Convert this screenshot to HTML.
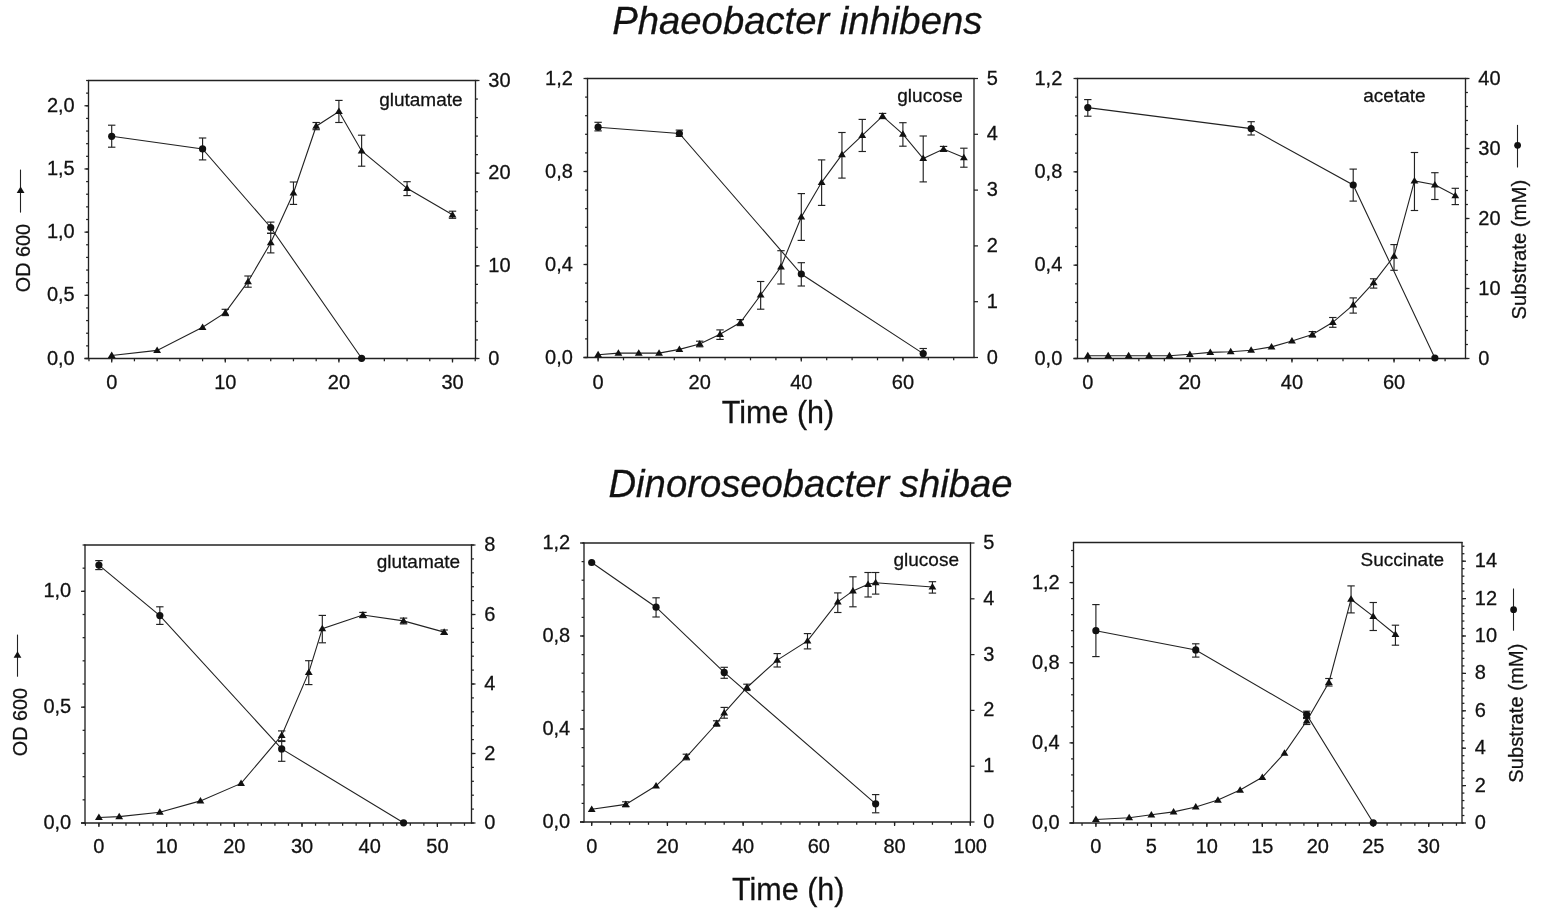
<!DOCTYPE html>
<html><head><meta charset="utf-8"><title>Growth curves</title>
<style>html,body{margin:0;padding:0;background:#fff;}svg{display:block;}</style>
</head><body>
<svg width="1547" height="919" viewBox="0 0 1547 919" font-family="'Liberation Sans', Arial, sans-serif">
<style>text{stroke:#111;stroke-width:0.28px;paint-order:stroke;}</style>
<rect width="1547" height="919" fill="#fff"/>
<text x="797.3" y="33.8" font-size="38.25" font-style="italic" text-anchor="middle" fill="#111">Phaeobacter inhibens</text>
<text x="810.5" y="497.4" font-size="38.25" font-style="italic" text-anchor="middle" fill="#111">Dinoroseobacter shibae</text>
<text x="778" y="422.6" font-size="30.5" text-anchor="middle" fill="#111">Time (h)</text>
<text x="788.3" y="900" font-size="30.5" text-anchor="middle" fill="#111">Time (h)</text>
<g stroke="#222" fill="none" stroke-linecap="butt">
<line x1="87.9" y1="80.5" x2="476.1" y2="80.5" stroke-width="1.35"/>
<line x1="88.5" y1="79.9" x2="88.5" y2="359.1" stroke-width="1.35"/>
<line x1="475.5" y1="79.9" x2="475.5" y2="359.1" stroke-width="1.35"/>
<line x1="84.5" y1="358.5" x2="476.1" y2="358.5" stroke-width="1.35"/>
<line x1="86.1" y1="358.5" x2="88.5" y2="358.5" stroke-width="1.25"/>
<line x1="86.1" y1="345.86" x2="88.5" y2="345.86" stroke-width="1.25"/>
<line x1="86.1" y1="333.23" x2="88.5" y2="333.23" stroke-width="1.25"/>
<line x1="86.1" y1="320.59" x2="88.5" y2="320.59" stroke-width="1.25"/>
<line x1="86.1" y1="307.95" x2="88.5" y2="307.95" stroke-width="1.25"/>
<line x1="86.1" y1="295.32" x2="88.5" y2="295.32" stroke-width="1.25"/>
<line x1="86.1" y1="282.68" x2="88.5" y2="282.68" stroke-width="1.25"/>
<line x1="86.1" y1="270.05" x2="88.5" y2="270.05" stroke-width="1.25"/>
<line x1="86.1" y1="257.41" x2="88.5" y2="257.41" stroke-width="1.25"/>
<line x1="86.1" y1="244.77" x2="88.5" y2="244.77" stroke-width="1.25"/>
<line x1="86.1" y1="232.14" x2="88.5" y2="232.14" stroke-width="1.25"/>
<line x1="86.1" y1="219.5" x2="88.5" y2="219.5" stroke-width="1.25"/>
<line x1="86.1" y1="206.86" x2="88.5" y2="206.86" stroke-width="1.25"/>
<line x1="86.1" y1="194.23" x2="88.5" y2="194.23" stroke-width="1.25"/>
<line x1="86.1" y1="181.59" x2="88.5" y2="181.59" stroke-width="1.25"/>
<line x1="86.1" y1="168.95" x2="88.5" y2="168.95" stroke-width="1.25"/>
<line x1="86.1" y1="156.32" x2="88.5" y2="156.32" stroke-width="1.25"/>
<line x1="86.1" y1="143.68" x2="88.5" y2="143.68" stroke-width="1.25"/>
<line x1="86.1" y1="131.05" x2="88.5" y2="131.05" stroke-width="1.25"/>
<line x1="86.1" y1="118.41" x2="88.5" y2="118.41" stroke-width="1.25"/>
<line x1="86.1" y1="105.77" x2="88.5" y2="105.77" stroke-width="1.25"/>
<line x1="86.1" y1="93.14" x2="88.5" y2="93.14" stroke-width="1.25"/>
<line x1="86.1" y1="80.5" x2="88.5" y2="80.5" stroke-width="1.25"/>
<line x1="84.5" y1="358.5" x2="88.5" y2="358.5" stroke-width="1.25"/>
<line x1="84.5" y1="295.32" x2="88.5" y2="295.32" stroke-width="1.25"/>
<line x1="84.5" y1="232.14" x2="88.5" y2="232.14" stroke-width="1.25"/>
<line x1="84.5" y1="168.95" x2="88.5" y2="168.95" stroke-width="1.25"/>
<line x1="84.5" y1="105.77" x2="88.5" y2="105.77" stroke-width="1.25"/>
<line x1="475.5" y1="358.5" x2="477.9" y2="358.5" stroke-width="1.25"/>
<line x1="475.5" y1="339.97" x2="477.9" y2="339.97" stroke-width="1.25"/>
<line x1="475.5" y1="321.43" x2="477.9" y2="321.43" stroke-width="1.25"/>
<line x1="475.5" y1="302.9" x2="477.9" y2="302.9" stroke-width="1.25"/>
<line x1="475.5" y1="284.37" x2="477.9" y2="284.37" stroke-width="1.25"/>
<line x1="475.5" y1="265.83" x2="477.9" y2="265.83" stroke-width="1.25"/>
<line x1="475.5" y1="247.3" x2="477.9" y2="247.3" stroke-width="1.25"/>
<line x1="475.5" y1="228.77" x2="477.9" y2="228.77" stroke-width="1.25"/>
<line x1="475.5" y1="210.23" x2="477.9" y2="210.23" stroke-width="1.25"/>
<line x1="475.5" y1="191.7" x2="477.9" y2="191.7" stroke-width="1.25"/>
<line x1="475.5" y1="173.17" x2="477.9" y2="173.17" stroke-width="1.25"/>
<line x1="475.5" y1="154.63" x2="477.9" y2="154.63" stroke-width="1.25"/>
<line x1="475.5" y1="136.1" x2="477.9" y2="136.1" stroke-width="1.25"/>
<line x1="475.5" y1="117.57" x2="477.9" y2="117.57" stroke-width="1.25"/>
<line x1="475.5" y1="99.03" x2="477.9" y2="99.03" stroke-width="1.25"/>
<line x1="475.5" y1="80.5" x2="477.9" y2="80.5" stroke-width="1.25"/>
<line x1="475.5" y1="358.5" x2="479.5" y2="358.5" stroke-width="1.25"/>
<line x1="475.5" y1="265.83" x2="479.5" y2="265.83" stroke-width="1.25"/>
<line x1="475.5" y1="173.17" x2="479.5" y2="173.17" stroke-width="1.25"/>
<line x1="475.5" y1="80.5" x2="479.5" y2="80.5" stroke-width="1.25"/>
<line x1="88.98" y1="358.5" x2="88.98" y2="361.3" stroke-width="1.25"/>
<line x1="111.7" y1="358.5" x2="111.7" y2="361.3" stroke-width="1.25"/>
<line x1="134.42" y1="358.5" x2="134.42" y2="361.3" stroke-width="1.25"/>
<line x1="157.14" y1="358.5" x2="157.14" y2="361.3" stroke-width="1.25"/>
<line x1="179.86" y1="358.5" x2="179.86" y2="361.3" stroke-width="1.25"/>
<line x1="202.58" y1="358.5" x2="202.58" y2="361.3" stroke-width="1.25"/>
<line x1="225.3" y1="358.5" x2="225.3" y2="361.3" stroke-width="1.25"/>
<line x1="248.02" y1="358.5" x2="248.02" y2="361.3" stroke-width="1.25"/>
<line x1="270.74" y1="358.5" x2="270.74" y2="361.3" stroke-width="1.25"/>
<line x1="293.46" y1="358.5" x2="293.46" y2="361.3" stroke-width="1.25"/>
<line x1="316.18" y1="358.5" x2="316.18" y2="361.3" stroke-width="1.25"/>
<line x1="338.9" y1="358.5" x2="338.9" y2="361.3" stroke-width="1.25"/>
<line x1="361.62" y1="358.5" x2="361.62" y2="361.3" stroke-width="1.25"/>
<line x1="384.34" y1="358.5" x2="384.34" y2="361.3" stroke-width="1.25"/>
<line x1="407.06" y1="358.5" x2="407.06" y2="361.3" stroke-width="1.25"/>
<line x1="429.78" y1="358.5" x2="429.78" y2="361.3" stroke-width="1.25"/>
<line x1="452.5" y1="358.5" x2="452.5" y2="361.3" stroke-width="1.25"/>
<line x1="475.22" y1="358.5" x2="475.22" y2="361.3" stroke-width="1.25"/>
<line x1="111.7" y1="358.5" x2="111.7" y2="362.5" stroke-width="1.25"/>
<line x1="225.3" y1="358.5" x2="225.3" y2="362.5" stroke-width="1.25"/>
<line x1="338.9" y1="358.5" x2="338.9" y2="362.5" stroke-width="1.25"/>
<line x1="452.5" y1="358.5" x2="452.5" y2="362.5" stroke-width="1.25"/>
</g>
<g fill="#111">
<text x="74.7" y="364.5" font-size="20" text-anchor="end" >0,0</text>
<text x="74.7" y="301.32" font-size="20" text-anchor="end" >0,5</text>
<text x="74.7" y="238.14" font-size="20" text-anchor="end" >1,0</text>
<text x="74.7" y="174.95" font-size="20" text-anchor="end" >1,5</text>
<text x="74.7" y="111.77" font-size="20" text-anchor="end" >2,0</text>
<text x="488.3" y="364.5" font-size="20" text-anchor="start" >0</text>
<text x="488.3" y="271.83" font-size="20" text-anchor="start" >10</text>
<text x="488.3" y="179.17" font-size="20" text-anchor="start" >20</text>
<text x="488.3" y="86.5" font-size="20" text-anchor="start" >30</text>
<text x="111.7" y="389.2" font-size="20" text-anchor="middle" >0</text>
<text x="225.3" y="389.2" font-size="20" text-anchor="middle" >10</text>
<text x="338.9" y="389.2" font-size="20" text-anchor="middle" >20</text>
<text x="452.5" y="389.2" font-size="20" text-anchor="middle" >30</text>
<text x="462.6" y="105.7" font-size="19" text-anchor="end" >glutamate</text>
</g>
<g stroke="#222" fill="none">
<polyline points="111.7,136.3 202.58,148.9 270.74,227.5 361.62,358.3" stroke-width="1.1"/>
<polyline points="111.7,355.5 157.14,350.4 202.58,327.3 225.3,312.6 248.02,281.7 270.74,242.7 293.46,193 316.18,126.2 338.9,111.5 361.62,150.9 407.06,188.3 452.5,214.8" stroke-width="1.1"/>
<line x1="111.7" y1="125.2" x2="111.7" y2="147.2" stroke-width="1.15"/>
<line x1="108" y1="125.2" x2="115.4" y2="125.2" stroke-width="1.15"/>
<line x1="108" y1="147.2" x2="115.4" y2="147.2" stroke-width="1.15"/>
<line x1="202.58" y1="138" x2="202.58" y2="159.9" stroke-width="1.15"/>
<line x1="198.88" y1="138" x2="206.28" y2="138" stroke-width="1.15"/>
<line x1="198.88" y1="159.9" x2="206.28" y2="159.9" stroke-width="1.15"/>
<line x1="270.74" y1="222.1" x2="270.74" y2="233.3" stroke-width="1.15"/>
<line x1="267.04" y1="222.1" x2="274.44" y2="222.1" stroke-width="1.15"/>
<line x1="267.04" y1="233.3" x2="274.44" y2="233.3" stroke-width="1.15"/>
<line x1="225.3" y1="309.3" x2="225.3" y2="315.6" stroke-width="1.15"/>
<line x1="221.6" y1="309.3" x2="229" y2="309.3" stroke-width="1.15"/>
<line x1="221.6" y1="315.6" x2="229" y2="315.6" stroke-width="1.15"/>
<line x1="248.02" y1="276" x2="248.02" y2="287.2" stroke-width="1.15"/>
<line x1="244.32" y1="276" x2="251.72" y2="276" stroke-width="1.15"/>
<line x1="244.32" y1="287.2" x2="251.72" y2="287.2" stroke-width="1.15"/>
<line x1="270.74" y1="233.3" x2="270.74" y2="252.9" stroke-width="1.15"/>
<line x1="267.04" y1="233.3" x2="274.44" y2="233.3" stroke-width="1.15"/>
<line x1="267.04" y1="252.9" x2="274.44" y2="252.9" stroke-width="1.15"/>
<line x1="293.46" y1="182" x2="293.46" y2="204.4" stroke-width="1.15"/>
<line x1="289.76" y1="182" x2="297.16" y2="182" stroke-width="1.15"/>
<line x1="289.76" y1="204.4" x2="297.16" y2="204.4" stroke-width="1.15"/>
<line x1="316.18" y1="122.5" x2="316.18" y2="129.7" stroke-width="1.15"/>
<line x1="312.48" y1="122.5" x2="319.88" y2="122.5" stroke-width="1.15"/>
<line x1="312.48" y1="129.7" x2="319.88" y2="129.7" stroke-width="1.15"/>
<line x1="338.9" y1="100.4" x2="338.9" y2="122.5" stroke-width="1.15"/>
<line x1="335.2" y1="100.4" x2="342.6" y2="100.4" stroke-width="1.15"/>
<line x1="335.2" y1="122.5" x2="342.6" y2="122.5" stroke-width="1.15"/>
<line x1="361.62" y1="135.2" x2="361.62" y2="166.2" stroke-width="1.15"/>
<line x1="357.92" y1="135.2" x2="365.32" y2="135.2" stroke-width="1.15"/>
<line x1="357.92" y1="166.2" x2="365.32" y2="166.2" stroke-width="1.15"/>
<line x1="407.06" y1="181.7" x2="407.06" y2="195.6" stroke-width="1.15"/>
<line x1="403.36" y1="181.7" x2="410.76" y2="181.7" stroke-width="1.15"/>
<line x1="403.36" y1="195.6" x2="410.76" y2="195.6" stroke-width="1.15"/>
<line x1="452.5" y1="211.2" x2="452.5" y2="218.3" stroke-width="1.15"/>
<line x1="448.8" y1="211.2" x2="456.2" y2="211.2" stroke-width="1.15"/>
<line x1="448.8" y1="218.3" x2="456.2" y2="218.3" stroke-width="1.15"/>
</g>
<g fill="#111" stroke="none">
<circle cx="111.7" cy="136.3" r="3.6"/>
<circle cx="202.58" cy="148.9" r="3.6"/>
<circle cx="270.74" cy="227.5" r="3.6"/>
<circle cx="361.62" cy="358.3" r="3.6"/>
<path d="M111.7,351.6L115.6,358.1L107.8,358.1Z"/>
<path d="M157.14,346.5L161.04,353L153.24,353Z"/>
<path d="M202.58,323.4L206.48,329.9L198.68,329.9Z"/>
<path d="M225.3,308.7L229.2,315.2L221.4,315.2Z"/>
<path d="M248.02,277.8L251.92,284.3L244.12,284.3Z"/>
<path d="M270.74,238.8L274.64,245.3L266.84,245.3Z"/>
<path d="M293.46,189.1L297.36,195.6L289.56,195.6Z"/>
<path d="M316.18,122.3L320.08,128.8L312.28,128.8Z"/>
<path d="M338.9,107.6L342.8,114.1L335,114.1Z"/>
<path d="M361.62,147L365.52,153.5L357.72,153.5Z"/>
<path d="M407.06,184.4L410.96,190.9L403.16,190.9Z"/>
<path d="M452.5,210.9L456.4,217.4L448.6,217.4Z"/>
</g>
<g stroke="#222" fill="none" stroke-linecap="butt">
<line x1="586.9" y1="78.5" x2="974.6" y2="78.5" stroke-width="1.35"/>
<line x1="587.5" y1="77.9" x2="587.5" y2="358.1" stroke-width="1.35"/>
<line x1="974" y1="77.9" x2="974" y2="358.1" stroke-width="1.35"/>
<line x1="583.5" y1="357.5" x2="974.6" y2="357.5" stroke-width="1.35"/>
<line x1="585.1" y1="357.5" x2="587.5" y2="357.5" stroke-width="1.25"/>
<line x1="585.1" y1="338.9" x2="587.5" y2="338.9" stroke-width="1.25"/>
<line x1="585.1" y1="320.3" x2="587.5" y2="320.3" stroke-width="1.25"/>
<line x1="585.1" y1="301.7" x2="587.5" y2="301.7" stroke-width="1.25"/>
<line x1="585.1" y1="283.1" x2="587.5" y2="283.1" stroke-width="1.25"/>
<line x1="585.1" y1="264.5" x2="587.5" y2="264.5" stroke-width="1.25"/>
<line x1="585.1" y1="245.9" x2="587.5" y2="245.9" stroke-width="1.25"/>
<line x1="585.1" y1="227.3" x2="587.5" y2="227.3" stroke-width="1.25"/>
<line x1="585.1" y1="208.7" x2="587.5" y2="208.7" stroke-width="1.25"/>
<line x1="585.1" y1="190.1" x2="587.5" y2="190.1" stroke-width="1.25"/>
<line x1="585.1" y1="171.5" x2="587.5" y2="171.5" stroke-width="1.25"/>
<line x1="585.1" y1="152.9" x2="587.5" y2="152.9" stroke-width="1.25"/>
<line x1="585.1" y1="134.3" x2="587.5" y2="134.3" stroke-width="1.25"/>
<line x1="585.1" y1="115.7" x2="587.5" y2="115.7" stroke-width="1.25"/>
<line x1="585.1" y1="97.1" x2="587.5" y2="97.1" stroke-width="1.25"/>
<line x1="585.1" y1="78.5" x2="587.5" y2="78.5" stroke-width="1.25"/>
<line x1="583.5" y1="357.5" x2="587.5" y2="357.5" stroke-width="1.25"/>
<line x1="583.5" y1="264.5" x2="587.5" y2="264.5" stroke-width="1.25"/>
<line x1="583.5" y1="171.5" x2="587.5" y2="171.5" stroke-width="1.25"/>
<line x1="583.5" y1="78.5" x2="587.5" y2="78.5" stroke-width="1.25"/>
<line x1="974" y1="357.5" x2="978" y2="357.5" stroke-width="1.25"/>
<line x1="974" y1="301.7" x2="978" y2="301.7" stroke-width="1.25"/>
<line x1="974" y1="245.9" x2="978" y2="245.9" stroke-width="1.25"/>
<line x1="974" y1="190.1" x2="978" y2="190.1" stroke-width="1.25"/>
<line x1="974" y1="134.3" x2="978" y2="134.3" stroke-width="1.25"/>
<line x1="974" y1="78.5" x2="978" y2="78.5" stroke-width="1.25"/>
<line x1="598.1" y1="357.5" x2="598.1" y2="360.3" stroke-width="1.25"/>
<line x1="623.5" y1="357.5" x2="623.5" y2="360.3" stroke-width="1.25"/>
<line x1="648.9" y1="357.5" x2="648.9" y2="360.3" stroke-width="1.25"/>
<line x1="674.3" y1="357.5" x2="674.3" y2="360.3" stroke-width="1.25"/>
<line x1="699.7" y1="357.5" x2="699.7" y2="360.3" stroke-width="1.25"/>
<line x1="725.1" y1="357.5" x2="725.1" y2="360.3" stroke-width="1.25"/>
<line x1="750.5" y1="357.5" x2="750.5" y2="360.3" stroke-width="1.25"/>
<line x1="775.9" y1="357.5" x2="775.9" y2="360.3" stroke-width="1.25"/>
<line x1="801.3" y1="357.5" x2="801.3" y2="360.3" stroke-width="1.25"/>
<line x1="826.7" y1="357.5" x2="826.7" y2="360.3" stroke-width="1.25"/>
<line x1="852.1" y1="357.5" x2="852.1" y2="360.3" stroke-width="1.25"/>
<line x1="877.5" y1="357.5" x2="877.5" y2="360.3" stroke-width="1.25"/>
<line x1="902.9" y1="357.5" x2="902.9" y2="360.3" stroke-width="1.25"/>
<line x1="928.3" y1="357.5" x2="928.3" y2="360.3" stroke-width="1.25"/>
<line x1="953.7" y1="357.5" x2="953.7" y2="360.3" stroke-width="1.25"/>
<line x1="598.1" y1="357.5" x2="598.1" y2="361.5" stroke-width="1.25"/>
<line x1="699.7" y1="357.5" x2="699.7" y2="361.5" stroke-width="1.25"/>
<line x1="801.3" y1="357.5" x2="801.3" y2="361.5" stroke-width="1.25"/>
<line x1="902.9" y1="357.5" x2="902.9" y2="361.5" stroke-width="1.25"/>
</g>
<g fill="#111">
<text x="572.9" y="363.5" font-size="20" text-anchor="end" >0,0</text>
<text x="572.9" y="270.5" font-size="20" text-anchor="end" >0,4</text>
<text x="572.9" y="177.5" font-size="20" text-anchor="end" >0,8</text>
<text x="572.9" y="84.5" font-size="20" text-anchor="end" >1,2</text>
<text x="986.8" y="363.5" font-size="20" text-anchor="start" >0</text>
<text x="986.8" y="307.7" font-size="20" text-anchor="start" >1</text>
<text x="986.8" y="251.9" font-size="20" text-anchor="start" >2</text>
<text x="986.8" y="196.1" font-size="20" text-anchor="start" >3</text>
<text x="986.8" y="140.3" font-size="20" text-anchor="start" >4</text>
<text x="986.8" y="84.5" font-size="20" text-anchor="start" >5</text>
<text x="598.1" y="389.2" font-size="20" text-anchor="middle" >0</text>
<text x="699.7" y="389.2" font-size="20" text-anchor="middle" >20</text>
<text x="801.3" y="389.2" font-size="20" text-anchor="middle" >40</text>
<text x="902.9" y="389.2" font-size="20" text-anchor="middle" >60</text>
<text x="962.8" y="101.7" font-size="19" text-anchor="end" >glucose</text>
</g>
<g stroke="#222" fill="none">
<polyline points="598.1,127.2 679.38,133.5 801.3,274 923.22,353.6" stroke-width="1.1"/>
<polyline points="598.1,354.7 618.42,353.1 638.74,353.1 659.06,353.1 679.38,349.4 699.7,344 720.02,334.3 740.34,322.6 760.66,295 780.98,266.8 801.3,217 821.62,182.3 841.94,154.6 862.26,135.4 882.58,116.2 902.9,134.1 923.22,158.5 943.54,149.1 963.86,157.6" stroke-width="1.1"/>
<line x1="598.1" y1="122.3" x2="598.1" y2="130.9" stroke-width="1.15"/>
<line x1="594.4" y1="122.3" x2="601.8" y2="122.3" stroke-width="1.15"/>
<line x1="594.4" y1="130.9" x2="601.8" y2="130.9" stroke-width="1.15"/>
<line x1="679.38" y1="130.1" x2="679.38" y2="136.4" stroke-width="1.15"/>
<line x1="675.68" y1="130.1" x2="683.08" y2="130.1" stroke-width="1.15"/>
<line x1="675.68" y1="136.4" x2="683.08" y2="136.4" stroke-width="1.15"/>
<line x1="801.3" y1="262.7" x2="801.3" y2="286" stroke-width="1.15"/>
<line x1="797.6" y1="262.7" x2="805" y2="262.7" stroke-width="1.15"/>
<line x1="797.6" y1="286" x2="805" y2="286" stroke-width="1.15"/>
<line x1="923.22" y1="348.5" x2="923.22" y2="357.6" stroke-width="1.15"/>
<line x1="919.52" y1="348.5" x2="926.92" y2="348.5" stroke-width="1.15"/>
<line x1="919.52" y1="357.6" x2="926.92" y2="357.6" stroke-width="1.15"/>
<line x1="699.7" y1="341.2" x2="699.7" y2="346.8" stroke-width="1.15"/>
<line x1="696" y1="341.2" x2="703.4" y2="341.2" stroke-width="1.15"/>
<line x1="696" y1="346.8" x2="703.4" y2="346.8" stroke-width="1.15"/>
<line x1="720.02" y1="329.9" x2="720.02" y2="339.4" stroke-width="1.15"/>
<line x1="716.32" y1="329.9" x2="723.72" y2="329.9" stroke-width="1.15"/>
<line x1="716.32" y1="339.4" x2="723.72" y2="339.4" stroke-width="1.15"/>
<line x1="740.34" y1="319.6" x2="740.34" y2="325.6" stroke-width="1.15"/>
<line x1="736.64" y1="319.6" x2="744.04" y2="319.6" stroke-width="1.15"/>
<line x1="736.64" y1="325.6" x2="744.04" y2="325.6" stroke-width="1.15"/>
<line x1="760.66" y1="281.5" x2="760.66" y2="309.2" stroke-width="1.15"/>
<line x1="756.96" y1="281.5" x2="764.36" y2="281.5" stroke-width="1.15"/>
<line x1="756.96" y1="309.2" x2="764.36" y2="309.2" stroke-width="1.15"/>
<line x1="780.98" y1="250.7" x2="780.98" y2="284" stroke-width="1.15"/>
<line x1="777.28" y1="250.7" x2="784.68" y2="250.7" stroke-width="1.15"/>
<line x1="777.28" y1="284" x2="784.68" y2="284" stroke-width="1.15"/>
<line x1="801.3" y1="193.6" x2="801.3" y2="240.4" stroke-width="1.15"/>
<line x1="797.6" y1="193.6" x2="805" y2="193.6" stroke-width="1.15"/>
<line x1="797.6" y1="240.4" x2="805" y2="240.4" stroke-width="1.15"/>
<line x1="821.62" y1="159.9" x2="821.62" y2="205.4" stroke-width="1.15"/>
<line x1="817.92" y1="159.9" x2="825.32" y2="159.9" stroke-width="1.15"/>
<line x1="817.92" y1="205.4" x2="825.32" y2="205.4" stroke-width="1.15"/>
<line x1="841.94" y1="132.5" x2="841.94" y2="178.1" stroke-width="1.15"/>
<line x1="838.24" y1="132.5" x2="845.64" y2="132.5" stroke-width="1.15"/>
<line x1="838.24" y1="178.1" x2="845.64" y2="178.1" stroke-width="1.15"/>
<line x1="862.26" y1="119.4" x2="862.26" y2="151.5" stroke-width="1.15"/>
<line x1="858.56" y1="119.4" x2="865.96" y2="119.4" stroke-width="1.15"/>
<line x1="858.56" y1="151.5" x2="865.96" y2="151.5" stroke-width="1.15"/>
<line x1="882.58" y1="113.4" x2="882.58" y2="118.6" stroke-width="1.15"/>
<line x1="878.88" y1="113.4" x2="886.28" y2="113.4" stroke-width="1.15"/>
<line x1="878.88" y1="118.6" x2="886.28" y2="118.6" stroke-width="1.15"/>
<line x1="902.9" y1="122.7" x2="902.9" y2="146.2" stroke-width="1.15"/>
<line x1="899.2" y1="122.7" x2="906.6" y2="122.7" stroke-width="1.15"/>
<line x1="899.2" y1="146.2" x2="906.6" y2="146.2" stroke-width="1.15"/>
<line x1="923.22" y1="136" x2="923.22" y2="181.9" stroke-width="1.15"/>
<line x1="919.52" y1="136" x2="926.92" y2="136" stroke-width="1.15"/>
<line x1="919.52" y1="181.9" x2="926.92" y2="181.9" stroke-width="1.15"/>
<line x1="943.54" y1="146.4" x2="943.54" y2="151.4" stroke-width="1.15"/>
<line x1="939.84" y1="146.4" x2="947.24" y2="146.4" stroke-width="1.15"/>
<line x1="939.84" y1="151.4" x2="947.24" y2="151.4" stroke-width="1.15"/>
<line x1="963.86" y1="148.2" x2="963.86" y2="167.2" stroke-width="1.15"/>
<line x1="960.16" y1="148.2" x2="967.56" y2="148.2" stroke-width="1.15"/>
<line x1="960.16" y1="167.2" x2="967.56" y2="167.2" stroke-width="1.15"/>
</g>
<g fill="#111" stroke="none">
<circle cx="598.1" cy="127.2" r="3.6"/>
<circle cx="679.38" cy="133.5" r="3.6"/>
<circle cx="801.3" cy="274" r="3.6"/>
<circle cx="923.22" cy="353.6" r="3.6"/>
<path d="M598.1,350.8L602,357.3L594.2,357.3Z"/>
<path d="M618.42,349.2L622.32,355.7L614.52,355.7Z"/>
<path d="M638.74,349.2L642.64,355.7L634.84,355.7Z"/>
<path d="M659.06,349.2L662.96,355.7L655.16,355.7Z"/>
<path d="M679.38,345.5L683.28,352L675.48,352Z"/>
<path d="M699.7,340.1L703.6,346.6L695.8,346.6Z"/>
<path d="M720.02,330.4L723.92,336.9L716.12,336.9Z"/>
<path d="M740.34,318.7L744.24,325.2L736.44,325.2Z"/>
<path d="M760.66,291.1L764.56,297.6L756.76,297.6Z"/>
<path d="M780.98,262.9L784.88,269.4L777.08,269.4Z"/>
<path d="M801.3,213.1L805.2,219.6L797.4,219.6Z"/>
<path d="M821.62,178.4L825.52,184.9L817.72,184.9Z"/>
<path d="M841.94,150.7L845.84,157.2L838.04,157.2Z"/>
<path d="M862.26,131.5L866.16,138L858.36,138Z"/>
<path d="M882.58,112.3L886.48,118.8L878.68,118.8Z"/>
<path d="M902.9,130.2L906.8,136.7L899,136.7Z"/>
<path d="M923.22,154.6L927.12,161.1L919.32,161.1Z"/>
<path d="M943.54,145.2L947.44,151.7L939.64,151.7Z"/>
<path d="M963.86,153.7L967.76,160.2L959.96,160.2Z"/>
</g>
<g stroke="#222" fill="none" stroke-linecap="butt">
<line x1="1076.9" y1="78.5" x2="1466.1" y2="78.5" stroke-width="1.35"/>
<line x1="1077.5" y1="77.9" x2="1077.5" y2="359.1" stroke-width="1.35"/>
<line x1="1465.5" y1="77.9" x2="1465.5" y2="359.1" stroke-width="1.35"/>
<line x1="1073.5" y1="358.5" x2="1466.1" y2="358.5" stroke-width="1.35"/>
<line x1="1075.1" y1="358.5" x2="1077.5" y2="358.5" stroke-width="1.25"/>
<line x1="1075.1" y1="339.83" x2="1077.5" y2="339.83" stroke-width="1.25"/>
<line x1="1075.1" y1="321.17" x2="1077.5" y2="321.17" stroke-width="1.25"/>
<line x1="1075.1" y1="302.5" x2="1077.5" y2="302.5" stroke-width="1.25"/>
<line x1="1075.1" y1="283.83" x2="1077.5" y2="283.83" stroke-width="1.25"/>
<line x1="1075.1" y1="265.17" x2="1077.5" y2="265.17" stroke-width="1.25"/>
<line x1="1075.1" y1="246.5" x2="1077.5" y2="246.5" stroke-width="1.25"/>
<line x1="1075.1" y1="227.83" x2="1077.5" y2="227.83" stroke-width="1.25"/>
<line x1="1075.1" y1="209.17" x2="1077.5" y2="209.17" stroke-width="1.25"/>
<line x1="1075.1" y1="190.5" x2="1077.5" y2="190.5" stroke-width="1.25"/>
<line x1="1075.1" y1="171.83" x2="1077.5" y2="171.83" stroke-width="1.25"/>
<line x1="1075.1" y1="153.17" x2="1077.5" y2="153.17" stroke-width="1.25"/>
<line x1="1075.1" y1="134.5" x2="1077.5" y2="134.5" stroke-width="1.25"/>
<line x1="1075.1" y1="115.83" x2="1077.5" y2="115.83" stroke-width="1.25"/>
<line x1="1075.1" y1="97.17" x2="1077.5" y2="97.17" stroke-width="1.25"/>
<line x1="1075.1" y1="78.5" x2="1077.5" y2="78.5" stroke-width="1.25"/>
<line x1="1073.5" y1="358.5" x2="1077.5" y2="358.5" stroke-width="1.25"/>
<line x1="1073.5" y1="265.17" x2="1077.5" y2="265.17" stroke-width="1.25"/>
<line x1="1073.5" y1="171.83" x2="1077.5" y2="171.83" stroke-width="1.25"/>
<line x1="1073.5" y1="78.5" x2="1077.5" y2="78.5" stroke-width="1.25"/>
<line x1="1465.5" y1="358.5" x2="1467.9" y2="358.5" stroke-width="1.25"/>
<line x1="1465.5" y1="344.5" x2="1467.9" y2="344.5" stroke-width="1.25"/>
<line x1="1465.5" y1="330.5" x2="1467.9" y2="330.5" stroke-width="1.25"/>
<line x1="1465.5" y1="316.5" x2="1467.9" y2="316.5" stroke-width="1.25"/>
<line x1="1465.5" y1="302.5" x2="1467.9" y2="302.5" stroke-width="1.25"/>
<line x1="1465.5" y1="288.5" x2="1467.9" y2="288.5" stroke-width="1.25"/>
<line x1="1465.5" y1="274.5" x2="1467.9" y2="274.5" stroke-width="1.25"/>
<line x1="1465.5" y1="260.5" x2="1467.9" y2="260.5" stroke-width="1.25"/>
<line x1="1465.5" y1="246.5" x2="1467.9" y2="246.5" stroke-width="1.25"/>
<line x1="1465.5" y1="232.5" x2="1467.9" y2="232.5" stroke-width="1.25"/>
<line x1="1465.5" y1="218.5" x2="1467.9" y2="218.5" stroke-width="1.25"/>
<line x1="1465.5" y1="204.5" x2="1467.9" y2="204.5" stroke-width="1.25"/>
<line x1="1465.5" y1="190.5" x2="1467.9" y2="190.5" stroke-width="1.25"/>
<line x1="1465.5" y1="176.5" x2="1467.9" y2="176.5" stroke-width="1.25"/>
<line x1="1465.5" y1="162.5" x2="1467.9" y2="162.5" stroke-width="1.25"/>
<line x1="1465.5" y1="148.5" x2="1467.9" y2="148.5" stroke-width="1.25"/>
<line x1="1465.5" y1="134.5" x2="1467.9" y2="134.5" stroke-width="1.25"/>
<line x1="1465.5" y1="120.5" x2="1467.9" y2="120.5" stroke-width="1.25"/>
<line x1="1465.5" y1="106.5" x2="1467.9" y2="106.5" stroke-width="1.25"/>
<line x1="1465.5" y1="92.5" x2="1467.9" y2="92.5" stroke-width="1.25"/>
<line x1="1465.5" y1="78.5" x2="1467.9" y2="78.5" stroke-width="1.25"/>
<line x1="1465.5" y1="358.5" x2="1469.5" y2="358.5" stroke-width="1.25"/>
<line x1="1465.5" y1="288.5" x2="1469.5" y2="288.5" stroke-width="1.25"/>
<line x1="1465.5" y1="218.5" x2="1469.5" y2="218.5" stroke-width="1.25"/>
<line x1="1465.5" y1="148.5" x2="1469.5" y2="148.5" stroke-width="1.25"/>
<line x1="1465.5" y1="78.5" x2="1469.5" y2="78.5" stroke-width="1.25"/>
<line x1="1087.8" y1="358.5" x2="1087.8" y2="361.3" stroke-width="1.25"/>
<line x1="1113.32" y1="358.5" x2="1113.32" y2="361.3" stroke-width="1.25"/>
<line x1="1138.84" y1="358.5" x2="1138.84" y2="361.3" stroke-width="1.25"/>
<line x1="1164.36" y1="358.5" x2="1164.36" y2="361.3" stroke-width="1.25"/>
<line x1="1189.88" y1="358.5" x2="1189.88" y2="361.3" stroke-width="1.25"/>
<line x1="1215.4" y1="358.5" x2="1215.4" y2="361.3" stroke-width="1.25"/>
<line x1="1240.92" y1="358.5" x2="1240.92" y2="361.3" stroke-width="1.25"/>
<line x1="1266.44" y1="358.5" x2="1266.44" y2="361.3" stroke-width="1.25"/>
<line x1="1291.96" y1="358.5" x2="1291.96" y2="361.3" stroke-width="1.25"/>
<line x1="1317.48" y1="358.5" x2="1317.48" y2="361.3" stroke-width="1.25"/>
<line x1="1343" y1="358.5" x2="1343" y2="361.3" stroke-width="1.25"/>
<line x1="1368.52" y1="358.5" x2="1368.52" y2="361.3" stroke-width="1.25"/>
<line x1="1394.04" y1="358.5" x2="1394.04" y2="361.3" stroke-width="1.25"/>
<line x1="1419.56" y1="358.5" x2="1419.56" y2="361.3" stroke-width="1.25"/>
<line x1="1445.08" y1="358.5" x2="1445.08" y2="361.3" stroke-width="1.25"/>
<line x1="1087.8" y1="358.5" x2="1087.8" y2="362.5" stroke-width="1.25"/>
<line x1="1189.88" y1="358.5" x2="1189.88" y2="362.5" stroke-width="1.25"/>
<line x1="1291.96" y1="358.5" x2="1291.96" y2="362.5" stroke-width="1.25"/>
<line x1="1394.04" y1="358.5" x2="1394.04" y2="362.5" stroke-width="1.25"/>
</g>
<g fill="#111">
<text x="1062.3" y="364.5" font-size="20" text-anchor="end" >0,0</text>
<text x="1062.3" y="271.17" font-size="20" text-anchor="end" >0,4</text>
<text x="1062.3" y="177.83" font-size="20" text-anchor="end" >0,8</text>
<text x="1062.3" y="84.5" font-size="20" text-anchor="end" >1,2</text>
<text x="1478.3" y="364.5" font-size="20" text-anchor="start" >0</text>
<text x="1478.3" y="294.5" font-size="20" text-anchor="start" >10</text>
<text x="1478.3" y="224.5" font-size="20" text-anchor="start" >20</text>
<text x="1478.3" y="154.5" font-size="20" text-anchor="start" >30</text>
<text x="1478.3" y="84.5" font-size="20" text-anchor="start" >40</text>
<text x="1087.8" y="389.2" font-size="20" text-anchor="middle" >0</text>
<text x="1189.88" y="389.2" font-size="20" text-anchor="middle" >20</text>
<text x="1291.96" y="389.2" font-size="20" text-anchor="middle" >40</text>
<text x="1394.04" y="389.2" font-size="20" text-anchor="middle" >60</text>
<text x="1425.6" y="101.7" font-size="19" text-anchor="end" >acetate</text>
</g>
<g stroke="#222" fill="none">
<polyline points="1087.8,107.6 1251.13,128.6 1353.21,185 1434.87,358" stroke-width="1.1"/>
<polyline points="1087.8,355.7 1108.22,355.7 1128.63,355.7 1149.05,355.7 1169.46,355.7 1189.88,354.3 1210.3,352.4 1230.71,351.7 1251.13,350.2 1271.54,346.9 1291.96,341 1312.38,334.5 1332.79,322.3 1353.21,304.9 1373.62,282.7 1394.04,256.1 1414.46,180.9 1434.87,184.8 1455.29,195.6" stroke-width="1.1"/>
<line x1="1087.8" y1="99.6" x2="1087.8" y2="116.2" stroke-width="1.15"/>
<line x1="1084.1" y1="99.6" x2="1091.5" y2="99.6" stroke-width="1.15"/>
<line x1="1084.1" y1="116.2" x2="1091.5" y2="116.2" stroke-width="1.15"/>
<line x1="1251.13" y1="121.7" x2="1251.13" y2="135" stroke-width="1.15"/>
<line x1="1247.43" y1="121.7" x2="1254.83" y2="121.7" stroke-width="1.15"/>
<line x1="1247.43" y1="135" x2="1254.83" y2="135" stroke-width="1.15"/>
<line x1="1353.21" y1="169.1" x2="1353.21" y2="201.1" stroke-width="1.15"/>
<line x1="1349.51" y1="169.1" x2="1356.91" y2="169.1" stroke-width="1.15"/>
<line x1="1349.51" y1="201.1" x2="1356.91" y2="201.1" stroke-width="1.15"/>
<line x1="1312.38" y1="331.6" x2="1312.38" y2="337.1" stroke-width="1.15"/>
<line x1="1308.68" y1="331.6" x2="1316.08" y2="331.6" stroke-width="1.15"/>
<line x1="1308.68" y1="337.1" x2="1316.08" y2="337.1" stroke-width="1.15"/>
<line x1="1332.79" y1="317.5" x2="1332.79" y2="327.3" stroke-width="1.15"/>
<line x1="1329.09" y1="317.5" x2="1336.49" y2="317.5" stroke-width="1.15"/>
<line x1="1329.09" y1="327.3" x2="1336.49" y2="327.3" stroke-width="1.15"/>
<line x1="1353.21" y1="297.9" x2="1353.21" y2="313.1" stroke-width="1.15"/>
<line x1="1349.51" y1="297.9" x2="1356.91" y2="297.9" stroke-width="1.15"/>
<line x1="1349.51" y1="313.1" x2="1356.91" y2="313.1" stroke-width="1.15"/>
<line x1="1373.62" y1="278.8" x2="1373.62" y2="288.1" stroke-width="1.15"/>
<line x1="1369.92" y1="278.8" x2="1377.32" y2="278.8" stroke-width="1.15"/>
<line x1="1369.92" y1="288.1" x2="1377.32" y2="288.1" stroke-width="1.15"/>
<line x1="1394.04" y1="244.6" x2="1394.04" y2="270.3" stroke-width="1.15"/>
<line x1="1390.34" y1="244.6" x2="1397.74" y2="244.6" stroke-width="1.15"/>
<line x1="1390.34" y1="270.3" x2="1397.74" y2="270.3" stroke-width="1.15"/>
<line x1="1414.46" y1="152.5" x2="1414.46" y2="210.5" stroke-width="1.15"/>
<line x1="1410.76" y1="152.5" x2="1418.16" y2="152.5" stroke-width="1.15"/>
<line x1="1410.76" y1="210.5" x2="1418.16" y2="210.5" stroke-width="1.15"/>
<line x1="1434.87" y1="172.7" x2="1434.87" y2="199.5" stroke-width="1.15"/>
<line x1="1431.17" y1="172.7" x2="1438.57" y2="172.7" stroke-width="1.15"/>
<line x1="1431.17" y1="199.5" x2="1438.57" y2="199.5" stroke-width="1.15"/>
<line x1="1455.29" y1="188.3" x2="1455.29" y2="204.6" stroke-width="1.15"/>
<line x1="1451.59" y1="188.3" x2="1458.99" y2="188.3" stroke-width="1.15"/>
<line x1="1451.59" y1="204.6" x2="1458.99" y2="204.6" stroke-width="1.15"/>
</g>
<g fill="#111" stroke="none">
<circle cx="1087.8" cy="107.6" r="3.6"/>
<circle cx="1251.13" cy="128.6" r="3.6"/>
<circle cx="1353.21" cy="185" r="3.6"/>
<circle cx="1434.87" cy="358" r="3.6"/>
<path d="M1087.8,351.8L1091.7,358.3L1083.9,358.3Z"/>
<path d="M1108.22,351.8L1112.12,358.3L1104.32,358.3Z"/>
<path d="M1128.63,351.8L1132.53,358.3L1124.73,358.3Z"/>
<path d="M1149.05,351.8L1152.95,358.3L1145.15,358.3Z"/>
<path d="M1169.46,351.8L1173.36,358.3L1165.56,358.3Z"/>
<path d="M1189.88,350.4L1193.78,356.9L1185.98,356.9Z"/>
<path d="M1210.3,348.5L1214.2,355L1206.4,355Z"/>
<path d="M1230.71,347.8L1234.61,354.3L1226.81,354.3Z"/>
<path d="M1251.13,346.3L1255.03,352.8L1247.23,352.8Z"/>
<path d="M1271.54,343L1275.44,349.5L1267.64,349.5Z"/>
<path d="M1291.96,337.1L1295.86,343.6L1288.06,343.6Z"/>
<path d="M1312.38,330.6L1316.28,337.1L1308.48,337.1Z"/>
<path d="M1332.79,318.4L1336.69,324.9L1328.89,324.9Z"/>
<path d="M1353.21,301L1357.11,307.5L1349.31,307.5Z"/>
<path d="M1373.62,278.8L1377.52,285.3L1369.72,285.3Z"/>
<path d="M1394.04,252.2L1397.94,258.7L1390.14,258.7Z"/>
<path d="M1414.46,177L1418.36,183.5L1410.56,183.5Z"/>
<path d="M1434.87,180.9L1438.77,187.4L1430.97,187.4Z"/>
<path d="M1455.29,191.7L1459.19,198.2L1451.39,198.2Z"/>
</g>
<g stroke="#222" fill="none" stroke-linecap="butt">
<line x1="84.4" y1="545" x2="472.1" y2="545" stroke-width="1.35"/>
<line x1="85" y1="544.4" x2="85" y2="823.6" stroke-width="1.35"/>
<line x1="471.5" y1="544.4" x2="471.5" y2="823.6" stroke-width="1.35"/>
<line x1="81" y1="823" x2="472.1" y2="823" stroke-width="1.35"/>
<line x1="82.6" y1="823" x2="85" y2="823" stroke-width="1.25"/>
<line x1="82.6" y1="799.83" x2="85" y2="799.83" stroke-width="1.25"/>
<line x1="82.6" y1="776.67" x2="85" y2="776.67" stroke-width="1.25"/>
<line x1="82.6" y1="753.5" x2="85" y2="753.5" stroke-width="1.25"/>
<line x1="82.6" y1="730.33" x2="85" y2="730.33" stroke-width="1.25"/>
<line x1="82.6" y1="707.17" x2="85" y2="707.17" stroke-width="1.25"/>
<line x1="82.6" y1="684" x2="85" y2="684" stroke-width="1.25"/>
<line x1="82.6" y1="660.83" x2="85" y2="660.83" stroke-width="1.25"/>
<line x1="82.6" y1="637.67" x2="85" y2="637.67" stroke-width="1.25"/>
<line x1="82.6" y1="614.5" x2="85" y2="614.5" stroke-width="1.25"/>
<line x1="82.6" y1="591.33" x2="85" y2="591.33" stroke-width="1.25"/>
<line x1="82.6" y1="568.17" x2="85" y2="568.17" stroke-width="1.25"/>
<line x1="82.6" y1="545" x2="85" y2="545" stroke-width="1.25"/>
<line x1="81" y1="823" x2="85" y2="823" stroke-width="1.25"/>
<line x1="81" y1="707.17" x2="85" y2="707.17" stroke-width="1.25"/>
<line x1="81" y1="591.33" x2="85" y2="591.33" stroke-width="1.25"/>
<line x1="471.5" y1="823" x2="473.9" y2="823" stroke-width="1.25"/>
<line x1="471.5" y1="809.1" x2="473.9" y2="809.1" stroke-width="1.25"/>
<line x1="471.5" y1="795.2" x2="473.9" y2="795.2" stroke-width="1.25"/>
<line x1="471.5" y1="781.3" x2="473.9" y2="781.3" stroke-width="1.25"/>
<line x1="471.5" y1="767.4" x2="473.9" y2="767.4" stroke-width="1.25"/>
<line x1="471.5" y1="753.5" x2="473.9" y2="753.5" stroke-width="1.25"/>
<line x1="471.5" y1="739.6" x2="473.9" y2="739.6" stroke-width="1.25"/>
<line x1="471.5" y1="725.7" x2="473.9" y2="725.7" stroke-width="1.25"/>
<line x1="471.5" y1="711.8" x2="473.9" y2="711.8" stroke-width="1.25"/>
<line x1="471.5" y1="697.9" x2="473.9" y2="697.9" stroke-width="1.25"/>
<line x1="471.5" y1="684" x2="473.9" y2="684" stroke-width="1.25"/>
<line x1="471.5" y1="670.1" x2="473.9" y2="670.1" stroke-width="1.25"/>
<line x1="471.5" y1="656.2" x2="473.9" y2="656.2" stroke-width="1.25"/>
<line x1="471.5" y1="642.3" x2="473.9" y2="642.3" stroke-width="1.25"/>
<line x1="471.5" y1="628.4" x2="473.9" y2="628.4" stroke-width="1.25"/>
<line x1="471.5" y1="614.5" x2="473.9" y2="614.5" stroke-width="1.25"/>
<line x1="471.5" y1="600.6" x2="473.9" y2="600.6" stroke-width="1.25"/>
<line x1="471.5" y1="586.7" x2="473.9" y2="586.7" stroke-width="1.25"/>
<line x1="471.5" y1="572.8" x2="473.9" y2="572.8" stroke-width="1.25"/>
<line x1="471.5" y1="558.9" x2="473.9" y2="558.9" stroke-width="1.25"/>
<line x1="471.5" y1="545" x2="473.9" y2="545" stroke-width="1.25"/>
<line x1="471.5" y1="823" x2="475.5" y2="823" stroke-width="1.25"/>
<line x1="471.5" y1="753.5" x2="475.5" y2="753.5" stroke-width="1.25"/>
<line x1="471.5" y1="684" x2="475.5" y2="684" stroke-width="1.25"/>
<line x1="471.5" y1="614.5" x2="475.5" y2="614.5" stroke-width="1.25"/>
<line x1="471.5" y1="545" x2="475.5" y2="545" stroke-width="1.25"/>
<line x1="85.36" y1="823" x2="85.36" y2="825.8" stroke-width="1.25"/>
<line x1="98.9" y1="823" x2="98.9" y2="825.8" stroke-width="1.25"/>
<line x1="112.44" y1="823" x2="112.44" y2="825.8" stroke-width="1.25"/>
<line x1="125.98" y1="823" x2="125.98" y2="825.8" stroke-width="1.25"/>
<line x1="139.52" y1="823" x2="139.52" y2="825.8" stroke-width="1.25"/>
<line x1="153.06" y1="823" x2="153.06" y2="825.8" stroke-width="1.25"/>
<line x1="166.6" y1="823" x2="166.6" y2="825.8" stroke-width="1.25"/>
<line x1="180.14" y1="823" x2="180.14" y2="825.8" stroke-width="1.25"/>
<line x1="193.68" y1="823" x2="193.68" y2="825.8" stroke-width="1.25"/>
<line x1="207.22" y1="823" x2="207.22" y2="825.8" stroke-width="1.25"/>
<line x1="220.76" y1="823" x2="220.76" y2="825.8" stroke-width="1.25"/>
<line x1="234.3" y1="823" x2="234.3" y2="825.8" stroke-width="1.25"/>
<line x1="247.84" y1="823" x2="247.84" y2="825.8" stroke-width="1.25"/>
<line x1="261.38" y1="823" x2="261.38" y2="825.8" stroke-width="1.25"/>
<line x1="274.92" y1="823" x2="274.92" y2="825.8" stroke-width="1.25"/>
<line x1="288.46" y1="823" x2="288.46" y2="825.8" stroke-width="1.25"/>
<line x1="302" y1="823" x2="302" y2="825.8" stroke-width="1.25"/>
<line x1="315.54" y1="823" x2="315.54" y2="825.8" stroke-width="1.25"/>
<line x1="329.08" y1="823" x2="329.08" y2="825.8" stroke-width="1.25"/>
<line x1="342.62" y1="823" x2="342.62" y2="825.8" stroke-width="1.25"/>
<line x1="356.16" y1="823" x2="356.16" y2="825.8" stroke-width="1.25"/>
<line x1="369.7" y1="823" x2="369.7" y2="825.8" stroke-width="1.25"/>
<line x1="383.24" y1="823" x2="383.24" y2="825.8" stroke-width="1.25"/>
<line x1="396.78" y1="823" x2="396.78" y2="825.8" stroke-width="1.25"/>
<line x1="410.32" y1="823" x2="410.32" y2="825.8" stroke-width="1.25"/>
<line x1="423.86" y1="823" x2="423.86" y2="825.8" stroke-width="1.25"/>
<line x1="437.4" y1="823" x2="437.4" y2="825.8" stroke-width="1.25"/>
<line x1="450.94" y1="823" x2="450.94" y2="825.8" stroke-width="1.25"/>
<line x1="464.48" y1="823" x2="464.48" y2="825.8" stroke-width="1.25"/>
<line x1="98.9" y1="823" x2="98.9" y2="827" stroke-width="1.25"/>
<line x1="166.6" y1="823" x2="166.6" y2="827" stroke-width="1.25"/>
<line x1="234.3" y1="823" x2="234.3" y2="827" stroke-width="1.25"/>
<line x1="302" y1="823" x2="302" y2="827" stroke-width="1.25"/>
<line x1="369.7" y1="823" x2="369.7" y2="827" stroke-width="1.25"/>
<line x1="437.4" y1="823" x2="437.4" y2="827" stroke-width="1.25"/>
</g>
<g fill="#111">
<text x="71.2" y="829" font-size="20" text-anchor="end" >0,0</text>
<text x="71.2" y="713.17" font-size="20" text-anchor="end" >0,5</text>
<text x="71.2" y="597.33" font-size="20" text-anchor="end" >1,0</text>
<text x="484.3" y="829" font-size="20" text-anchor="start" >0</text>
<text x="484.3" y="759.5" font-size="20" text-anchor="start" >2</text>
<text x="484.3" y="690" font-size="20" text-anchor="start" >4</text>
<text x="484.3" y="620.5" font-size="20" text-anchor="start" >6</text>
<text x="484.3" y="551" font-size="20" text-anchor="start" >8</text>
<text x="98.9" y="853.2" font-size="20" text-anchor="middle" >0</text>
<text x="166.6" y="853.2" font-size="20" text-anchor="middle" >10</text>
<text x="234.3" y="853.2" font-size="20" text-anchor="middle" >20</text>
<text x="302" y="853.2" font-size="20" text-anchor="middle" >30</text>
<text x="369.7" y="853.2" font-size="20" text-anchor="middle" >40</text>
<text x="437.4" y="853.2" font-size="20" text-anchor="middle" >50</text>
<text x="460.2" y="568.2" font-size="19" text-anchor="end" >glutamate</text>
</g>
<g stroke="#222" fill="none">
<polyline points="98.9,565.1 159.83,615.6 281.69,748.9 403.55,822.8" stroke-width="1.1"/>
<polyline points="98.9,817.5 119.21,816.6 159.83,812.2 200.45,800.9 241.07,783.4 281.69,735.4 308.77,672.4 322.31,628.7 362.93,615 403.55,620.9 444.17,632.1" stroke-width="1.1"/>
<line x1="98.9" y1="560.6" x2="98.9" y2="569.6" stroke-width="1.15"/>
<line x1="95.2" y1="560.6" x2="102.6" y2="560.6" stroke-width="1.15"/>
<line x1="95.2" y1="569.6" x2="102.6" y2="569.6" stroke-width="1.15"/>
<line x1="159.83" y1="606.8" x2="159.83" y2="624.4" stroke-width="1.15"/>
<line x1="156.13" y1="606.8" x2="163.53" y2="606.8" stroke-width="1.15"/>
<line x1="156.13" y1="624.4" x2="163.53" y2="624.4" stroke-width="1.15"/>
<line x1="281.69" y1="740.7" x2="281.69" y2="761.3" stroke-width="1.15"/>
<line x1="277.99" y1="740.7" x2="285.39" y2="740.7" stroke-width="1.15"/>
<line x1="277.99" y1="761.3" x2="285.39" y2="761.3" stroke-width="1.15"/>
<line x1="281.69" y1="730.9" x2="281.69" y2="741.5" stroke-width="1.15"/>
<line x1="277.99" y1="730.9" x2="285.39" y2="730.9" stroke-width="1.15"/>
<line x1="277.99" y1="741.5" x2="285.39" y2="741.5" stroke-width="1.15"/>
<line x1="308.77" y1="660.7" x2="308.77" y2="684.6" stroke-width="1.15"/>
<line x1="305.07" y1="660.7" x2="312.47" y2="660.7" stroke-width="1.15"/>
<line x1="305.07" y1="684.6" x2="312.47" y2="684.6" stroke-width="1.15"/>
<line x1="322.31" y1="615.4" x2="322.31" y2="642.8" stroke-width="1.15"/>
<line x1="318.61" y1="615.4" x2="326.01" y2="615.4" stroke-width="1.15"/>
<line x1="318.61" y1="642.8" x2="326.01" y2="642.8" stroke-width="1.15"/>
<line x1="362.93" y1="612.4" x2="362.93" y2="617.6" stroke-width="1.15"/>
<line x1="359.23" y1="612.4" x2="366.63" y2="612.4" stroke-width="1.15"/>
<line x1="359.23" y1="617.6" x2="366.63" y2="617.6" stroke-width="1.15"/>
<line x1="403.55" y1="618.1" x2="403.55" y2="623.9" stroke-width="1.15"/>
<line x1="399.85" y1="618.1" x2="407.25" y2="618.1" stroke-width="1.15"/>
<line x1="399.85" y1="623.9" x2="407.25" y2="623.9" stroke-width="1.15"/>
<line x1="444.17" y1="630" x2="444.17" y2="634.4" stroke-width="1.15"/>
<line x1="440.47" y1="630" x2="447.87" y2="630" stroke-width="1.15"/>
<line x1="440.47" y1="634.4" x2="447.87" y2="634.4" stroke-width="1.15"/>
</g>
<g fill="#111" stroke="none">
<circle cx="98.9" cy="565.1" r="3.6"/>
<circle cx="159.83" cy="615.6" r="3.6"/>
<circle cx="281.69" cy="748.9" r="3.6"/>
<circle cx="403.55" cy="822.8" r="3.6"/>
<path d="M98.9,813.6L102.8,820.1L95,820.1Z"/>
<path d="M119.21,812.7L123.11,819.2L115.31,819.2Z"/>
<path d="M159.83,808.3L163.73,814.8L155.93,814.8Z"/>
<path d="M200.45,797L204.35,803.5L196.55,803.5Z"/>
<path d="M241.07,779.5L244.97,786L237.17,786Z"/>
<path d="M281.69,731.5L285.59,738L277.79,738Z"/>
<path d="M308.77,668.5L312.67,675L304.87,675Z"/>
<path d="M322.31,624.8L326.21,631.3L318.41,631.3Z"/>
<path d="M362.93,611.1L366.83,617.6L359.03,617.6Z"/>
<path d="M403.55,617L407.45,623.5L399.65,623.5Z"/>
<path d="M444.17,628.2L448.07,634.7L440.27,634.7Z"/>
</g>
<g stroke="#222" fill="none" stroke-linecap="butt">
<line x1="583.4" y1="543" x2="971.1" y2="543" stroke-width="1.35"/>
<line x1="584" y1="542.4" x2="584" y2="822.6" stroke-width="1.35"/>
<line x1="970.5" y1="542.4" x2="970.5" y2="822.6" stroke-width="1.35"/>
<line x1="580" y1="822" x2="971.1" y2="822" stroke-width="1.35"/>
<line x1="581.6" y1="822" x2="584" y2="822" stroke-width="1.25"/>
<line x1="581.6" y1="803.4" x2="584" y2="803.4" stroke-width="1.25"/>
<line x1="581.6" y1="784.8" x2="584" y2="784.8" stroke-width="1.25"/>
<line x1="581.6" y1="766.2" x2="584" y2="766.2" stroke-width="1.25"/>
<line x1="581.6" y1="747.6" x2="584" y2="747.6" stroke-width="1.25"/>
<line x1="581.6" y1="729" x2="584" y2="729" stroke-width="1.25"/>
<line x1="581.6" y1="710.4" x2="584" y2="710.4" stroke-width="1.25"/>
<line x1="581.6" y1="691.8" x2="584" y2="691.8" stroke-width="1.25"/>
<line x1="581.6" y1="673.2" x2="584" y2="673.2" stroke-width="1.25"/>
<line x1="581.6" y1="654.6" x2="584" y2="654.6" stroke-width="1.25"/>
<line x1="581.6" y1="636" x2="584" y2="636" stroke-width="1.25"/>
<line x1="581.6" y1="617.4" x2="584" y2="617.4" stroke-width="1.25"/>
<line x1="581.6" y1="598.8" x2="584" y2="598.8" stroke-width="1.25"/>
<line x1="581.6" y1="580.2" x2="584" y2="580.2" stroke-width="1.25"/>
<line x1="581.6" y1="561.6" x2="584" y2="561.6" stroke-width="1.25"/>
<line x1="581.6" y1="543" x2="584" y2="543" stroke-width="1.25"/>
<line x1="580" y1="822" x2="584" y2="822" stroke-width="1.25"/>
<line x1="580" y1="729" x2="584" y2="729" stroke-width="1.25"/>
<line x1="580" y1="636" x2="584" y2="636" stroke-width="1.25"/>
<line x1="580" y1="543" x2="584" y2="543" stroke-width="1.25"/>
<line x1="970.5" y1="822" x2="974.5" y2="822" stroke-width="1.25"/>
<line x1="970.5" y1="766.2" x2="974.5" y2="766.2" stroke-width="1.25"/>
<line x1="970.5" y1="710.4" x2="974.5" y2="710.4" stroke-width="1.25"/>
<line x1="970.5" y1="654.6" x2="974.5" y2="654.6" stroke-width="1.25"/>
<line x1="970.5" y1="598.8" x2="974.5" y2="598.8" stroke-width="1.25"/>
<line x1="970.5" y1="543" x2="974.5" y2="543" stroke-width="1.25"/>
<line x1="591.7" y1="822" x2="591.7" y2="824.8" stroke-width="1.25"/>
<line x1="610.63" y1="822" x2="610.63" y2="824.8" stroke-width="1.25"/>
<line x1="629.56" y1="822" x2="629.56" y2="824.8" stroke-width="1.25"/>
<line x1="648.49" y1="822" x2="648.49" y2="824.8" stroke-width="1.25"/>
<line x1="667.42" y1="822" x2="667.42" y2="824.8" stroke-width="1.25"/>
<line x1="686.35" y1="822" x2="686.35" y2="824.8" stroke-width="1.25"/>
<line x1="705.28" y1="822" x2="705.28" y2="824.8" stroke-width="1.25"/>
<line x1="724.21" y1="822" x2="724.21" y2="824.8" stroke-width="1.25"/>
<line x1="743.14" y1="822" x2="743.14" y2="824.8" stroke-width="1.25"/>
<line x1="762.07" y1="822" x2="762.07" y2="824.8" stroke-width="1.25"/>
<line x1="781" y1="822" x2="781" y2="824.8" stroke-width="1.25"/>
<line x1="799.93" y1="822" x2="799.93" y2="824.8" stroke-width="1.25"/>
<line x1="818.86" y1="822" x2="818.86" y2="824.8" stroke-width="1.25"/>
<line x1="837.79" y1="822" x2="837.79" y2="824.8" stroke-width="1.25"/>
<line x1="856.72" y1="822" x2="856.72" y2="824.8" stroke-width="1.25"/>
<line x1="875.65" y1="822" x2="875.65" y2="824.8" stroke-width="1.25"/>
<line x1="894.58" y1="822" x2="894.58" y2="824.8" stroke-width="1.25"/>
<line x1="913.51" y1="822" x2="913.51" y2="824.8" stroke-width="1.25"/>
<line x1="932.44" y1="822" x2="932.44" y2="824.8" stroke-width="1.25"/>
<line x1="951.37" y1="822" x2="951.37" y2="824.8" stroke-width="1.25"/>
<line x1="970.3" y1="822" x2="970.3" y2="824.8" stroke-width="1.25"/>
<line x1="591.7" y1="822" x2="591.7" y2="826" stroke-width="1.25"/>
<line x1="667.42" y1="822" x2="667.42" y2="826" stroke-width="1.25"/>
<line x1="743.14" y1="822" x2="743.14" y2="826" stroke-width="1.25"/>
<line x1="818.86" y1="822" x2="818.86" y2="826" stroke-width="1.25"/>
<line x1="894.58" y1="822" x2="894.58" y2="826" stroke-width="1.25"/>
<line x1="970.3" y1="822" x2="970.3" y2="826" stroke-width="1.25"/>
</g>
<g fill="#111">
<text x="570.2" y="828" font-size="20" text-anchor="end" >0,0</text>
<text x="570.2" y="735" font-size="20" text-anchor="end" >0,4</text>
<text x="570.2" y="642" font-size="20" text-anchor="end" >0,8</text>
<text x="570.2" y="549" font-size="20" text-anchor="end" >1,2</text>
<text x="983.3" y="828" font-size="20" text-anchor="start" >0</text>
<text x="983.3" y="772.2" font-size="20" text-anchor="start" >1</text>
<text x="983.3" y="716.4" font-size="20" text-anchor="start" >2</text>
<text x="983.3" y="660.6" font-size="20" text-anchor="start" >3</text>
<text x="983.3" y="604.8" font-size="20" text-anchor="start" >4</text>
<text x="983.3" y="549" font-size="20" text-anchor="start" >5</text>
<text x="591.7" y="853.2" font-size="20" text-anchor="middle" >0</text>
<text x="667.42" y="853.2" font-size="20" text-anchor="middle" >20</text>
<text x="743.14" y="853.2" font-size="20" text-anchor="middle" >40</text>
<text x="818.86" y="853.2" font-size="20" text-anchor="middle" >60</text>
<text x="894.58" y="853.2" font-size="20" text-anchor="middle" >80</text>
<text x="970.3" y="853.2" font-size="20" text-anchor="middle" >100</text>
<text x="959" y="566.3" font-size="19" text-anchor="end" >glucose</text>
</g>
<g stroke="#222" fill="none">
<polyline points="591.7,562.5 656.06,607.2 724.21,672.4 875.65,803.8" stroke-width="1.1"/>
<polyline points="591.7,809.3 625.77,804.4 656.06,785.8 686.35,757 716.64,723.5 724.21,712.9 746.93,687.5 777.21,660.1 807.5,640.9 837.79,601.9 852.93,590.9 868.08,584.3 875.65,582.7 932.44,587" stroke-width="1.1"/>
<line x1="656.06" y1="597.8" x2="656.06" y2="617" stroke-width="1.15"/>
<line x1="652.36" y1="597.8" x2="659.76" y2="597.8" stroke-width="1.15"/>
<line x1="652.36" y1="617" x2="659.76" y2="617" stroke-width="1.15"/>
<line x1="724.21" y1="667.3" x2="724.21" y2="678.3" stroke-width="1.15"/>
<line x1="720.51" y1="667.3" x2="727.91" y2="667.3" stroke-width="1.15"/>
<line x1="720.51" y1="678.3" x2="727.91" y2="678.3" stroke-width="1.15"/>
<line x1="875.65" y1="794.6" x2="875.65" y2="812.8" stroke-width="1.15"/>
<line x1="871.95" y1="794.6" x2="879.35" y2="794.6" stroke-width="1.15"/>
<line x1="871.95" y1="812.8" x2="879.35" y2="812.8" stroke-width="1.15"/>
<line x1="625.77" y1="801.8" x2="625.77" y2="806.8" stroke-width="1.15"/>
<line x1="622.07" y1="801.8" x2="629.47" y2="801.8" stroke-width="1.15"/>
<line x1="622.07" y1="806.8" x2="629.47" y2="806.8" stroke-width="1.15"/>
<line x1="686.35" y1="754.2" x2="686.35" y2="759.8" stroke-width="1.15"/>
<line x1="682.65" y1="754.2" x2="690.05" y2="754.2" stroke-width="1.15"/>
<line x1="682.65" y1="759.8" x2="690.05" y2="759.8" stroke-width="1.15"/>
<line x1="716.64" y1="720.8" x2="716.64" y2="726.2" stroke-width="1.15"/>
<line x1="712.94" y1="720.8" x2="720.34" y2="720.8" stroke-width="1.15"/>
<line x1="712.94" y1="726.2" x2="720.34" y2="726.2" stroke-width="1.15"/>
<line x1="724.21" y1="707.4" x2="724.21" y2="718.2" stroke-width="1.15"/>
<line x1="720.51" y1="707.4" x2="727.91" y2="707.4" stroke-width="1.15"/>
<line x1="720.51" y1="718.2" x2="727.91" y2="718.2" stroke-width="1.15"/>
<line x1="746.93" y1="684.2" x2="746.93" y2="690.5" stroke-width="1.15"/>
<line x1="743.23" y1="684.2" x2="750.63" y2="684.2" stroke-width="1.15"/>
<line x1="743.23" y1="690.5" x2="750.63" y2="690.5" stroke-width="1.15"/>
<line x1="777.21" y1="653.6" x2="777.21" y2="667" stroke-width="1.15"/>
<line x1="773.51" y1="653.6" x2="780.91" y2="653.6" stroke-width="1.15"/>
<line x1="773.51" y1="667" x2="780.91" y2="667" stroke-width="1.15"/>
<line x1="807.5" y1="633.6" x2="807.5" y2="648.9" stroke-width="1.15"/>
<line x1="803.8" y1="633.6" x2="811.2" y2="633.6" stroke-width="1.15"/>
<line x1="803.8" y1="648.9" x2="811.2" y2="648.9" stroke-width="1.15"/>
<line x1="837.79" y1="592.9" x2="837.79" y2="612.5" stroke-width="1.15"/>
<line x1="834.09" y1="592.9" x2="841.49" y2="592.9" stroke-width="1.15"/>
<line x1="834.09" y1="612.5" x2="841.49" y2="612.5" stroke-width="1.15"/>
<line x1="852.93" y1="576.8" x2="852.93" y2="606.8" stroke-width="1.15"/>
<line x1="849.23" y1="576.8" x2="856.63" y2="576.8" stroke-width="1.15"/>
<line x1="849.23" y1="606.8" x2="856.63" y2="606.8" stroke-width="1.15"/>
<line x1="868.08" y1="572.5" x2="868.08" y2="597" stroke-width="1.15"/>
<line x1="864.38" y1="572.5" x2="871.78" y2="572.5" stroke-width="1.15"/>
<line x1="864.38" y1="597" x2="871.78" y2="597" stroke-width="1.15"/>
<line x1="875.65" y1="572.5" x2="875.65" y2="594.1" stroke-width="1.15"/>
<line x1="871.95" y1="572.5" x2="879.35" y2="572.5" stroke-width="1.15"/>
<line x1="871.95" y1="594.1" x2="879.35" y2="594.1" stroke-width="1.15"/>
<line x1="932.44" y1="581.7" x2="932.44" y2="593.1" stroke-width="1.15"/>
<line x1="928.74" y1="581.7" x2="936.14" y2="581.7" stroke-width="1.15"/>
<line x1="928.74" y1="593.1" x2="936.14" y2="593.1" stroke-width="1.15"/>
</g>
<g fill="#111" stroke="none">
<circle cx="591.7" cy="562.5" r="3.6"/>
<circle cx="656.06" cy="607.2" r="3.6"/>
<circle cx="724.21" cy="672.4" r="3.6"/>
<circle cx="875.65" cy="803.8" r="3.6"/>
<path d="M591.7,805.4L595.6,811.9L587.8,811.9Z"/>
<path d="M625.77,800.5L629.67,807L621.87,807Z"/>
<path d="M656.06,781.9L659.96,788.4L652.16,788.4Z"/>
<path d="M686.35,753.1L690.25,759.6L682.45,759.6Z"/>
<path d="M716.64,719.6L720.54,726.1L712.74,726.1Z"/>
<path d="M724.21,709L728.11,715.5L720.31,715.5Z"/>
<path d="M746.93,683.6L750.83,690.1L743.03,690.1Z"/>
<path d="M777.21,656.2L781.11,662.7L773.31,662.7Z"/>
<path d="M807.5,637L811.4,643.5L803.6,643.5Z"/>
<path d="M837.79,598L841.69,604.5L833.89,604.5Z"/>
<path d="M852.93,587L856.83,593.5L849.03,593.5Z"/>
<path d="M868.08,580.4L871.98,586.9L864.18,586.9Z"/>
<path d="M875.65,578.8L879.55,585.3L871.75,585.3Z"/>
<path d="M932.44,583.1L936.34,589.6L928.54,589.6Z"/>
</g>
<g stroke="#222" fill="none" stroke-linecap="butt">
<line x1="1072.9" y1="542.5" x2="1462.6" y2="542.5" stroke-width="1.35"/>
<line x1="1073.5" y1="541.9" x2="1073.5" y2="823.6" stroke-width="1.35"/>
<line x1="1462" y1="541.9" x2="1462" y2="823.6" stroke-width="1.35"/>
<line x1="1069.5" y1="823" x2="1462.6" y2="823" stroke-width="1.35"/>
<line x1="1071.1" y1="823" x2="1073.5" y2="823" stroke-width="1.25"/>
<line x1="1071.1" y1="806.97" x2="1073.5" y2="806.97" stroke-width="1.25"/>
<line x1="1071.1" y1="790.94" x2="1073.5" y2="790.94" stroke-width="1.25"/>
<line x1="1071.1" y1="774.91" x2="1073.5" y2="774.91" stroke-width="1.25"/>
<line x1="1071.1" y1="758.89" x2="1073.5" y2="758.89" stroke-width="1.25"/>
<line x1="1071.1" y1="742.86" x2="1073.5" y2="742.86" stroke-width="1.25"/>
<line x1="1071.1" y1="726.83" x2="1073.5" y2="726.83" stroke-width="1.25"/>
<line x1="1071.1" y1="710.8" x2="1073.5" y2="710.8" stroke-width="1.25"/>
<line x1="1071.1" y1="694.77" x2="1073.5" y2="694.77" stroke-width="1.25"/>
<line x1="1071.1" y1="678.74" x2="1073.5" y2="678.74" stroke-width="1.25"/>
<line x1="1071.1" y1="662.71" x2="1073.5" y2="662.71" stroke-width="1.25"/>
<line x1="1071.1" y1="646.69" x2="1073.5" y2="646.69" stroke-width="1.25"/>
<line x1="1071.1" y1="630.66" x2="1073.5" y2="630.66" stroke-width="1.25"/>
<line x1="1071.1" y1="614.63" x2="1073.5" y2="614.63" stroke-width="1.25"/>
<line x1="1071.1" y1="598.6" x2="1073.5" y2="598.6" stroke-width="1.25"/>
<line x1="1071.1" y1="582.57" x2="1073.5" y2="582.57" stroke-width="1.25"/>
<line x1="1071.1" y1="566.54" x2="1073.5" y2="566.54" stroke-width="1.25"/>
<line x1="1071.1" y1="550.51" x2="1073.5" y2="550.51" stroke-width="1.25"/>
<line x1="1069.5" y1="823" x2="1073.5" y2="823" stroke-width="1.25"/>
<line x1="1069.5" y1="742.86" x2="1073.5" y2="742.86" stroke-width="1.25"/>
<line x1="1069.5" y1="662.71" x2="1073.5" y2="662.71" stroke-width="1.25"/>
<line x1="1069.5" y1="582.57" x2="1073.5" y2="582.57" stroke-width="1.25"/>
<line x1="1462" y1="823" x2="1464.4" y2="823" stroke-width="1.25"/>
<line x1="1462" y1="815.52" x2="1464.4" y2="815.52" stroke-width="1.25"/>
<line x1="1462" y1="808.04" x2="1464.4" y2="808.04" stroke-width="1.25"/>
<line x1="1462" y1="800.56" x2="1464.4" y2="800.56" stroke-width="1.25"/>
<line x1="1462" y1="793.08" x2="1464.4" y2="793.08" stroke-width="1.25"/>
<line x1="1462" y1="785.6" x2="1464.4" y2="785.6" stroke-width="1.25"/>
<line x1="1462" y1="778.12" x2="1464.4" y2="778.12" stroke-width="1.25"/>
<line x1="1462" y1="770.64" x2="1464.4" y2="770.64" stroke-width="1.25"/>
<line x1="1462" y1="763.16" x2="1464.4" y2="763.16" stroke-width="1.25"/>
<line x1="1462" y1="755.68" x2="1464.4" y2="755.68" stroke-width="1.25"/>
<line x1="1462" y1="748.2" x2="1464.4" y2="748.2" stroke-width="1.25"/>
<line x1="1462" y1="740.72" x2="1464.4" y2="740.72" stroke-width="1.25"/>
<line x1="1462" y1="733.24" x2="1464.4" y2="733.24" stroke-width="1.25"/>
<line x1="1462" y1="725.76" x2="1464.4" y2="725.76" stroke-width="1.25"/>
<line x1="1462" y1="718.28" x2="1464.4" y2="718.28" stroke-width="1.25"/>
<line x1="1462" y1="710.8" x2="1464.4" y2="710.8" stroke-width="1.25"/>
<line x1="1462" y1="703.32" x2="1464.4" y2="703.32" stroke-width="1.25"/>
<line x1="1462" y1="695.84" x2="1464.4" y2="695.84" stroke-width="1.25"/>
<line x1="1462" y1="688.36" x2="1464.4" y2="688.36" stroke-width="1.25"/>
<line x1="1462" y1="680.88" x2="1464.4" y2="680.88" stroke-width="1.25"/>
<line x1="1462" y1="673.4" x2="1464.4" y2="673.4" stroke-width="1.25"/>
<line x1="1462" y1="665.92" x2="1464.4" y2="665.92" stroke-width="1.25"/>
<line x1="1462" y1="658.44" x2="1464.4" y2="658.44" stroke-width="1.25"/>
<line x1="1462" y1="650.96" x2="1464.4" y2="650.96" stroke-width="1.25"/>
<line x1="1462" y1="643.48" x2="1464.4" y2="643.48" stroke-width="1.25"/>
<line x1="1462" y1="636" x2="1464.4" y2="636" stroke-width="1.25"/>
<line x1="1462" y1="628.52" x2="1464.4" y2="628.52" stroke-width="1.25"/>
<line x1="1462" y1="621.04" x2="1464.4" y2="621.04" stroke-width="1.25"/>
<line x1="1462" y1="613.56" x2="1464.4" y2="613.56" stroke-width="1.25"/>
<line x1="1462" y1="606.08" x2="1464.4" y2="606.08" stroke-width="1.25"/>
<line x1="1462" y1="598.6" x2="1464.4" y2="598.6" stroke-width="1.25"/>
<line x1="1462" y1="591.12" x2="1464.4" y2="591.12" stroke-width="1.25"/>
<line x1="1462" y1="583.64" x2="1464.4" y2="583.64" stroke-width="1.25"/>
<line x1="1462" y1="576.16" x2="1464.4" y2="576.16" stroke-width="1.25"/>
<line x1="1462" y1="568.68" x2="1464.4" y2="568.68" stroke-width="1.25"/>
<line x1="1462" y1="561.2" x2="1464.4" y2="561.2" stroke-width="1.25"/>
<line x1="1462" y1="553.72" x2="1464.4" y2="553.72" stroke-width="1.25"/>
<line x1="1462" y1="546.24" x2="1464.4" y2="546.24" stroke-width="1.25"/>
<line x1="1462" y1="823" x2="1466" y2="823" stroke-width="1.25"/>
<line x1="1462" y1="785.6" x2="1466" y2="785.6" stroke-width="1.25"/>
<line x1="1462" y1="748.2" x2="1466" y2="748.2" stroke-width="1.25"/>
<line x1="1462" y1="710.8" x2="1466" y2="710.8" stroke-width="1.25"/>
<line x1="1462" y1="673.4" x2="1466" y2="673.4" stroke-width="1.25"/>
<line x1="1462" y1="636" x2="1466" y2="636" stroke-width="1.25"/>
<line x1="1462" y1="598.6" x2="1466" y2="598.6" stroke-width="1.25"/>
<line x1="1462" y1="561.2" x2="1466" y2="561.2" stroke-width="1.25"/>
<line x1="1082.03" y1="823" x2="1082.03" y2="825.8" stroke-width="1.25"/>
<line x1="1095.9" y1="823" x2="1095.9" y2="825.8" stroke-width="1.25"/>
<line x1="1109.77" y1="823" x2="1109.77" y2="825.8" stroke-width="1.25"/>
<line x1="1123.63" y1="823" x2="1123.63" y2="825.8" stroke-width="1.25"/>
<line x1="1137.5" y1="823" x2="1137.5" y2="825.8" stroke-width="1.25"/>
<line x1="1151.37" y1="823" x2="1151.37" y2="825.8" stroke-width="1.25"/>
<line x1="1165.24" y1="823" x2="1165.24" y2="825.8" stroke-width="1.25"/>
<line x1="1179.11" y1="823" x2="1179.11" y2="825.8" stroke-width="1.25"/>
<line x1="1192.97" y1="823" x2="1192.97" y2="825.8" stroke-width="1.25"/>
<line x1="1206.84" y1="823" x2="1206.84" y2="825.8" stroke-width="1.25"/>
<line x1="1220.71" y1="823" x2="1220.71" y2="825.8" stroke-width="1.25"/>
<line x1="1234.58" y1="823" x2="1234.58" y2="825.8" stroke-width="1.25"/>
<line x1="1248.44" y1="823" x2="1248.44" y2="825.8" stroke-width="1.25"/>
<line x1="1262.31" y1="823" x2="1262.31" y2="825.8" stroke-width="1.25"/>
<line x1="1276.18" y1="823" x2="1276.18" y2="825.8" stroke-width="1.25"/>
<line x1="1290.05" y1="823" x2="1290.05" y2="825.8" stroke-width="1.25"/>
<line x1="1303.91" y1="823" x2="1303.91" y2="825.8" stroke-width="1.25"/>
<line x1="1317.78" y1="823" x2="1317.78" y2="825.8" stroke-width="1.25"/>
<line x1="1331.65" y1="823" x2="1331.65" y2="825.8" stroke-width="1.25"/>
<line x1="1345.52" y1="823" x2="1345.52" y2="825.8" stroke-width="1.25"/>
<line x1="1359.38" y1="823" x2="1359.38" y2="825.8" stroke-width="1.25"/>
<line x1="1373.25" y1="823" x2="1373.25" y2="825.8" stroke-width="1.25"/>
<line x1="1387.12" y1="823" x2="1387.12" y2="825.8" stroke-width="1.25"/>
<line x1="1400.99" y1="823" x2="1400.99" y2="825.8" stroke-width="1.25"/>
<line x1="1414.85" y1="823" x2="1414.85" y2="825.8" stroke-width="1.25"/>
<line x1="1428.72" y1="823" x2="1428.72" y2="825.8" stroke-width="1.25"/>
<line x1="1442.59" y1="823" x2="1442.59" y2="825.8" stroke-width="1.25"/>
<line x1="1456.46" y1="823" x2="1456.46" y2="825.8" stroke-width="1.25"/>
<line x1="1095.9" y1="823" x2="1095.9" y2="827" stroke-width="1.25"/>
<line x1="1151.37" y1="823" x2="1151.37" y2="827" stroke-width="1.25"/>
<line x1="1206.84" y1="823" x2="1206.84" y2="827" stroke-width="1.25"/>
<line x1="1262.31" y1="823" x2="1262.31" y2="827" stroke-width="1.25"/>
<line x1="1317.78" y1="823" x2="1317.78" y2="827" stroke-width="1.25"/>
<line x1="1373.25" y1="823" x2="1373.25" y2="827" stroke-width="1.25"/>
<line x1="1428.72" y1="823" x2="1428.72" y2="827" stroke-width="1.25"/>
</g>
<g fill="#111">
<text x="1059.7" y="829" font-size="20" text-anchor="end" >0,0</text>
<text x="1059.7" y="748.86" font-size="20" text-anchor="end" >0,4</text>
<text x="1059.7" y="668.71" font-size="20" text-anchor="end" >0,8</text>
<text x="1059.7" y="588.57" font-size="20" text-anchor="end" >1,2</text>
<text x="1474.8" y="829" font-size="20" text-anchor="start" >0</text>
<text x="1474.8" y="791.6" font-size="20" text-anchor="start" >2</text>
<text x="1474.8" y="754.2" font-size="20" text-anchor="start" >4</text>
<text x="1474.8" y="716.8" font-size="20" text-anchor="start" >6</text>
<text x="1474.8" y="679.4" font-size="20" text-anchor="start" >8</text>
<text x="1474.8" y="642" font-size="20" text-anchor="start" >10</text>
<text x="1474.8" y="604.6" font-size="20" text-anchor="start" >12</text>
<text x="1474.8" y="567.2" font-size="20" text-anchor="start" >14</text>
<text x="1095.9" y="853.2" font-size="20" text-anchor="middle" >0</text>
<text x="1151.37" y="853.2" font-size="20" text-anchor="middle" >5</text>
<text x="1206.84" y="853.2" font-size="20" text-anchor="middle" >10</text>
<text x="1262.31" y="853.2" font-size="20" text-anchor="middle" >15</text>
<text x="1317.78" y="853.2" font-size="20" text-anchor="middle" >20</text>
<text x="1373.25" y="853.2" font-size="20" text-anchor="middle" >25</text>
<text x="1428.72" y="853.2" font-size="20" text-anchor="middle" >30</text>
<text x="1444" y="566.2" font-size="19" text-anchor="end" >Succinate</text>
</g>
<g stroke="#222" fill="none">
<polyline points="1095.9,630.7 1195.75,649.9 1306.69,714.6 1373.25,822.8" stroke-width="1.1"/>
<polyline points="1095.9,819.5 1129.18,817.7 1151.37,814.8 1173.56,811.9 1195.75,807 1217.93,800.1 1240.12,790.1 1262.31,777.3 1284.5,753.1 1306.69,721 1328.87,682.5 1351.06,599.2 1373.25,616.4 1395.44,634.5" stroke-width="1.1"/>
<line x1="1095.9" y1="604.6" x2="1095.9" y2="656.6" stroke-width="1.15"/>
<line x1="1092.2" y1="604.6" x2="1099.6" y2="604.6" stroke-width="1.15"/>
<line x1="1092.2" y1="656.6" x2="1099.6" y2="656.6" stroke-width="1.15"/>
<line x1="1195.75" y1="643.8" x2="1195.75" y2="657.1" stroke-width="1.15"/>
<line x1="1192.05" y1="643.8" x2="1199.45" y2="643.8" stroke-width="1.15"/>
<line x1="1192.05" y1="657.1" x2="1199.45" y2="657.1" stroke-width="1.15"/>
<line x1="1306.69" y1="711.2" x2="1306.69" y2="717.4" stroke-width="1.15"/>
<line x1="1302.99" y1="711.2" x2="1310.39" y2="711.2" stroke-width="1.15"/>
<line x1="1302.99" y1="717.4" x2="1310.39" y2="717.4" stroke-width="1.15"/>
<line x1="1306.69" y1="718.5" x2="1306.69" y2="724.5" stroke-width="1.15"/>
<line x1="1302.99" y1="718.5" x2="1310.39" y2="718.5" stroke-width="1.15"/>
<line x1="1302.99" y1="724.5" x2="1310.39" y2="724.5" stroke-width="1.15"/>
<line x1="1328.87" y1="678.5" x2="1328.87" y2="686" stroke-width="1.15"/>
<line x1="1325.17" y1="678.5" x2="1332.57" y2="678.5" stroke-width="1.15"/>
<line x1="1325.17" y1="686" x2="1332.57" y2="686" stroke-width="1.15"/>
<line x1="1351.06" y1="585.9" x2="1351.06" y2="612.9" stroke-width="1.15"/>
<line x1="1347.36" y1="585.9" x2="1354.76" y2="585.9" stroke-width="1.15"/>
<line x1="1347.36" y1="612.9" x2="1354.76" y2="612.9" stroke-width="1.15"/>
<line x1="1373.25" y1="602.5" x2="1373.25" y2="630.5" stroke-width="1.15"/>
<line x1="1369.55" y1="602.5" x2="1376.95" y2="602.5" stroke-width="1.15"/>
<line x1="1369.55" y1="630.5" x2="1376.95" y2="630.5" stroke-width="1.15"/>
<line x1="1395.44" y1="625.2" x2="1395.44" y2="645.2" stroke-width="1.15"/>
<line x1="1391.74" y1="625.2" x2="1399.14" y2="625.2" stroke-width="1.15"/>
<line x1="1391.74" y1="645.2" x2="1399.14" y2="645.2" stroke-width="1.15"/>
</g>
<g fill="#111" stroke="none">
<circle cx="1095.9" cy="630.7" r="3.6"/>
<circle cx="1195.75" cy="649.9" r="3.6"/>
<circle cx="1306.69" cy="714.6" r="3.6"/>
<circle cx="1373.25" cy="822.8" r="3.6"/>
<path d="M1095.9,815.6L1099.8,822.1L1092,822.1Z"/>
<path d="M1129.18,813.8L1133.08,820.3L1125.28,820.3Z"/>
<path d="M1151.37,810.9L1155.27,817.4L1147.47,817.4Z"/>
<path d="M1173.56,808L1177.46,814.5L1169.66,814.5Z"/>
<path d="M1195.75,803.1L1199.65,809.6L1191.85,809.6Z"/>
<path d="M1217.93,796.2L1221.83,802.7L1214.03,802.7Z"/>
<path d="M1240.12,786.2L1244.02,792.7L1236.22,792.7Z"/>
<path d="M1262.31,773.4L1266.21,779.9L1258.41,779.9Z"/>
<path d="M1284.5,749.2L1288.4,755.7L1280.6,755.7Z"/>
<path d="M1306.69,717.1L1310.59,723.6L1302.79,723.6Z"/>
<path d="M1328.87,678.6L1332.77,685.1L1324.97,685.1Z"/>
<path d="M1351.06,595.3L1354.96,601.8L1347.16,601.8Z"/>
<path d="M1373.25,612.5L1377.15,619L1369.35,619Z"/>
<path d="M1395.44,630.6L1399.34,637.1L1391.54,637.1Z"/>
</g>
<text transform="translate(30.2,258.1) rotate(-90)" x="0" y="0" font-size="19.8" text-anchor="middle" fill="#111">OD 600</text>
<text transform="translate(26.8,722.1) rotate(-90)" x="0" y="0" font-size="19.8" text-anchor="middle" fill="#111">OD 600</text>
<text transform="translate(1526,249.7) rotate(-90)" x="0" y="0" font-size="20.3" text-anchor="middle" fill="#111">Substrate (mM)</text>
<text transform="translate(1522.6,713.2) rotate(-90)" x="0" y="0" font-size="20.2" text-anchor="middle" fill="#111">Substrate (mM)</text>
<g stroke="#222" fill="none">
<line x1="20.5" y1="169.6" x2="20.5" y2="212.6" stroke-width="1.1"/>
<line x1="17.5" y1="634.6" x2="17.5" y2="676.7" stroke-width="1.1"/>
<line x1="1517.5" y1="124.9" x2="1517.5" y2="167.5" stroke-width="1.1"/>
<line x1="1513.5" y1="588.5" x2="1513.5" y2="630.7" stroke-width="1.1"/>
</g>
<g fill="#111">
<path d="M20.6,186.6L24.5,193.1L16.7,193.1Z"/>
<path d="M17.5,651.3L21.4,657.8L13.6,657.8Z"/>
<circle cx="1517.6" cy="145.3" r="3.4"/>
<circle cx="1513.6" cy="609.7" r="3.4"/>
</g>
</svg>
</body></html>
